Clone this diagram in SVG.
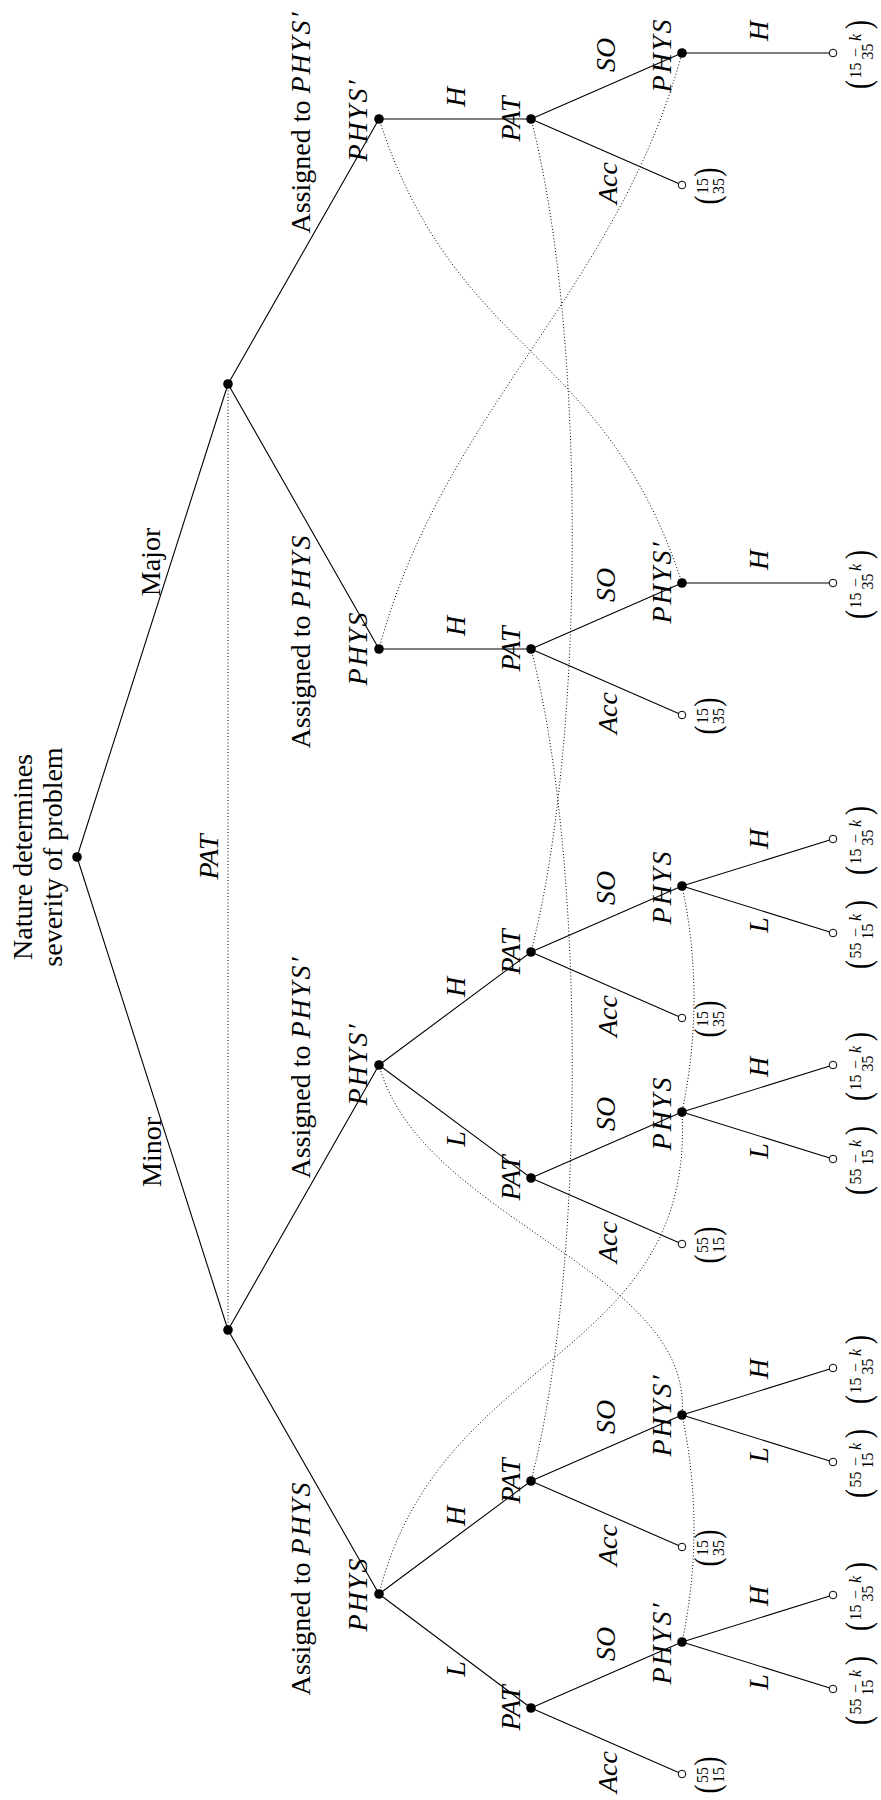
<svg xmlns="http://www.w3.org/2000/svg" width="881" height="1800" viewBox="0 0 881 1800">
<style>
.e{stroke:#000;stroke-width:1.1;fill:none}
.d{stroke:#000;stroke-width:1;fill:none;stroke-dasharray:1 2.2}
.n{fill:#000}
.o{fill:#fff;stroke:#000;stroke-width:1}
.t{font-family:"Liberation Serif","Times New Roman",serif;font-size:28px;fill:#000;text-anchor:middle}
.i{font-style:italic}
.ph{letter-spacing:2px}
.s{font-size:16px}
.pr{font-size:27px}
</style>
<defs>
<g id="k15"><text class="t s" x="-16">15</text><text class="t s" x="2">−</text><text class="t s i" x="17">k</text><text class="t s" x="3" y="12">35</text><text class="t pr" transform="scale(1,1.35)" x="-30" y="6.3">(</text><text class="t pr" transform="scale(1,1.35)" x="30" y="6.3">)</text></g>
<g id="k55"><text class="t s" x="-16">55</text><text class="t s" x="2">−</text><text class="t s i" x="17">k</text><text class="t s" x="3" y="12">15</text><text class="t pr" transform="scale(1,1.35)" x="-30" y="6.3">(</text><text class="t pr" transform="scale(1,1.35)" x="30" y="6.3">)</text></g>
<g id="a15"><text class="t s" y="0">15</text><text class="t s" y="16">35</text><text class="t pr" transform="scale(1,1.35)" x="-14" y="7.8">(</text><text class="t pr" transform="scale(1,1.35)" x="14" y="7.8">)</text></g>
<g id="a55"><text class="t s" y="0">55</text><text class="t s" y="16">15</text><text class="t pr" transform="scale(1,1.35)" x="-14" y="7.8">(</text><text class="t pr" transform="scale(1,1.35)" x="14" y="7.8">)</text></g>
</defs>
<rect width="881" height="1800" fill="#fff"/>
<g id="connectors">
<path class="e" d="M77,857L228,384M77,857L228,1330"/>
<path class="e" d="M228,384L379,119M228,384L379,649M228,1330L379,1065M228,1330L379,1594"/>
<path class="e" d="M379,119L531,119M379,649L531,649M379,1065L531,952M379,1065L531,1178M379,1594L531,1481M379,1594L531,1708"/>
<path class="e" d="M531,119L682,53M531,119L682,185M531,649L682,583M531,649L682,715M531,952L682,886M531,952L682,1018M531,1178L682,1112M531,1178L682,1244M531,1481L682,1415M531,1481L682,1547M531,1708L682,1642M531,1708L682,1774"/>
<path class="e" d="M682,53L833,53M682,583L833,583M682,886L833,839M682,886L833,933M682,1112L833,1065M682,1112L833,1159M682,1415L833,1368M682,1415L833,1462M682,1642L833,1595M682,1642L833,1689"/>
</g>
<g id="information-sets">
<path class="d" d="M228,384L228,1330"/>
<path class="d" d="M379,119C457,358 604,344 682,583"/>
<path class="d" d="M379,649C443,411 618,291 682,53"/>
<path class="d" d="M531,119C586,330 586,740 531,952"/>
<path class="d" d="M531,649C586,860 586,1270 531,1481"/>
<path class="d" d="M379,1594C440,1350 695,1360 682,1112C698,1036 698,960 682,886"/>
<path class="d" d="M379,1065C421,1220 694,1270 682,1415C698,1490 698,1567 682,1642"/>
</g>
<g id="edge-labels">
<text class="t" transform="translate(160,562) rotate(-90)">Major</text>
<text class="t" transform="translate(161,1152) rotate(-90)">Minor</text>
<text class="t i" transform="translate(218,857) rotate(-90)">PAT</text>
<text class="t" transform="translate(310,122) rotate(-90)">Assigned to <tspan class="i ph">PHYS′</tspan></text>
<text class="t" transform="translate(310,641) rotate(-90)">Assigned to <tspan class="i ph">PHYS</tspan></text>
<text class="t" transform="translate(310,1067) rotate(-90)">Assigned to <tspan class="i ph">PHYS′</tspan></text>
<text class="t" transform="translate(310,1588) rotate(-90)">Assigned to <tspan class="i ph">PHYS</tspan></text>
<text class="t i" transform="translate(465,97) rotate(-90)">H</text>
<text class="t i" transform="translate(465,626) rotate(-90)">H</text>
<text class="t i" transform="translate(465,987) rotate(-90)">H</text>
<text class="t i" transform="translate(465,1139) rotate(-90)">L</text>
<text class="t i" transform="translate(465,1516) rotate(-90)">H</text>
<text class="t i" transform="translate(465,1669) rotate(-90)">L</text>
<text class="t i" transform="translate(615,55) rotate(-90)">SO</text>
<text class="t i" transform="translate(617,183) rotate(-90)">Acc</text>
<text class="t i" transform="translate(615,585) rotate(-90)">SO</text>
<text class="t i" transform="translate(617,713) rotate(-90)">Acc</text>
<text class="t i" transform="translate(615,888) rotate(-90)">SO</text>
<text class="t i" transform="translate(617,1016) rotate(-90)">Acc</text>
<text class="t i" transform="translate(615,1114) rotate(-90)">SO</text>
<text class="t i" transform="translate(617,1242) rotate(-90)">Acc</text>
<text class="t i" transform="translate(615,1417) rotate(-90)">SO</text>
<text class="t i" transform="translate(617,1545) rotate(-90)">Acc</text>
<text class="t i" transform="translate(615,1644) rotate(-90)">SO</text>
<text class="t i" transform="translate(617,1772) rotate(-90)">Acc</text>
<text class="t i" transform="translate(768,31) rotate(-90)">H</text>
<text class="t i" transform="translate(768,560) rotate(-90)">H</text>
<text class="t i" transform="translate(768,839) rotate(-90)">H</text>
<text class="t i" transform="translate(768,925) rotate(-90)">L</text>
<text class="t i" transform="translate(768,1067) rotate(-90)">H</text>
<text class="t i" transform="translate(768,1151) rotate(-90)">L</text>
<text class="t i" transform="translate(768,1369) rotate(-90)">H</text>
<text class="t i" transform="translate(768,1455) rotate(-90)">L</text>
<text class="t i" transform="translate(768,1596) rotate(-90)">H</text>
<text class="t i" transform="translate(768,1682) rotate(-90)">L</text>
</g>
<g id="root"><circle class="n" cx="77" cy="857" r="4.8"/>
<text class="t" transform="translate(32,857) rotate(-90)">Nature determines</text>
<text class="t" transform="translate(62,857) rotate(-90)">severity of problem</text></g>
<g id="major"><circle class="n" cx="228" cy="384" r="4.8"/></g>
<g id="minor"><circle class="n" cx="228" cy="1330" r="4.8"/></g>
<g id="major-physp"><circle class="n" cx="379" cy="119" r="4.8"/><text class="t i ph" transform="translate(367,120) rotate(-90)">PHYS′</text></g>
<g id="major-phys"><circle class="n" cx="379" cy="649" r="4.8"/><text class="t i ph" transform="translate(367,648) rotate(-90)">PHYS</text></g>
<g id="minor-physp"><circle class="n" cx="379" cy="1065" r="4.8"/><text class="t i ph" transform="translate(367,1064) rotate(-90)">PHYS′</text></g>
<g id="minor-phys"><circle class="n" cx="379" cy="1594" r="4.8"/><text class="t i ph" transform="translate(367,1594) rotate(-90)">PHYS</text></g>
<g id="pat1"><circle class="n" cx="531" cy="119" r="4.8"/><text class="t i" transform="translate(520,119) rotate(-90)">PAT</text></g>
<g id="pat2"><circle class="n" cx="531" cy="649" r="4.8"/><text class="t i" transform="translate(520,649) rotate(-90)">PAT</text></g>
<g id="pat3"><circle class="n" cx="531" cy="952" r="4.8"/><text class="t i" transform="translate(520,952) rotate(-90)">PAT</text></g>
<g id="pat4"><circle class="n" cx="531" cy="1178" r="4.8"/><text class="t i" transform="translate(520,1178) rotate(-90)">PAT</text></g>
<g id="pat5"><circle class="n" cx="531" cy="1481" r="4.8"/><text class="t i" transform="translate(520,1481) rotate(-90)">PAT</text></g>
<g id="pat6"><circle class="n" cx="531" cy="1708" r="4.8"/><text class="t i" transform="translate(520,1708) rotate(-90)">PAT</text></g>
<g id="l4-1"><circle class="n" cx="682" cy="53" r="4.8"/><text class="t i ph" transform="translate(671,55) rotate(-90)">PHYS</text></g>
<g id="l4-2"><circle class="n" cx="682" cy="583" r="4.8"/><text class="t i ph" transform="translate(671,582) rotate(-90)">PHYS′</text></g>
<g id="l4-3"><circle class="n" cx="682" cy="886" r="4.8"/><text class="t i ph" transform="translate(671,887) rotate(-90)">PHYS</text></g>
<g id="l4-4"><circle class="n" cx="682" cy="1112" r="4.8"/><text class="t i ph" transform="translate(671,1113) rotate(-90)">PHYS</text></g>
<g id="l4-5"><circle class="n" cx="682" cy="1415" r="4.8"/><text class="t i ph" transform="translate(671,1415) rotate(-90)">PHYS′</text></g>
<g id="l4-6"><circle class="n" cx="682" cy="1642" r="4.8"/><text class="t i ph" transform="translate(671,1643) rotate(-90)">PHYS′</text></g>
<g id="acc1"><circle class="o" cx="682" cy="185" r="3.8"/><use href="#a15" transform="translate(708,186) rotate(-90)"/></g>
<g id="acc2"><circle class="o" cx="682" cy="715" r="3.8"/><use href="#a15" transform="translate(708,716) rotate(-90)"/></g>
<g id="acc3"><circle class="o" cx="682" cy="1018" r="3.8"/><use href="#a15" transform="translate(708,1019) rotate(-90)"/></g>
<g id="acc4"><circle class="o" cx="682" cy="1244" r="3.8"/><use href="#a55" transform="translate(708,1245) rotate(-90)"/></g>
<g id="acc5"><circle class="o" cx="682" cy="1547" r="3.8"/><use href="#a15" transform="translate(708,1548) rotate(-90)"/></g>
<g id="acc6"><circle class="o" cx="682" cy="1774" r="3.8"/><use href="#a55" transform="translate(708,1775) rotate(-90)"/></g>
<g id="t1"><circle class="o" cx="833" cy="53" r="3.8"/><use href="#k15" transform="translate(861,54.5) rotate(-90)"/></g>
<g id="t2"><circle class="o" cx="833" cy="583" r="3.8"/><use href="#k15" transform="translate(861,584.5) rotate(-90)"/></g>
<g id="t3"><circle class="o" cx="833" cy="839" r="3.8"/><use href="#k15" transform="translate(861,840.5) rotate(-90)"/></g>
<g id="t4"><circle class="o" cx="833" cy="933" r="3.8"/><use href="#k55" transform="translate(861,934.5) rotate(-90)"/></g>
<g id="t5"><circle class="o" cx="833" cy="1065" r="3.8"/><use href="#k15" transform="translate(861,1066.5) rotate(-90)"/></g>
<g id="t6"><circle class="o" cx="833" cy="1159" r="3.8"/><use href="#k55" transform="translate(861,1160.5) rotate(-90)"/></g>
<g id="t7"><circle class="o" cx="833" cy="1368" r="3.8"/><use href="#k15" transform="translate(861,1369.5) rotate(-90)"/></g>
<g id="t8"><circle class="o" cx="833" cy="1462" r="3.8"/><use href="#k55" transform="translate(861,1463.5) rotate(-90)"/></g>
<g id="t9"><circle class="o" cx="833" cy="1595" r="3.8"/><use href="#k15" transform="translate(861,1596.5) rotate(-90)"/></g>
<g id="t10"><circle class="o" cx="833" cy="1689" r="3.8"/><use href="#k55" transform="translate(861,1690.5) rotate(-90)"/></g>
</svg>
